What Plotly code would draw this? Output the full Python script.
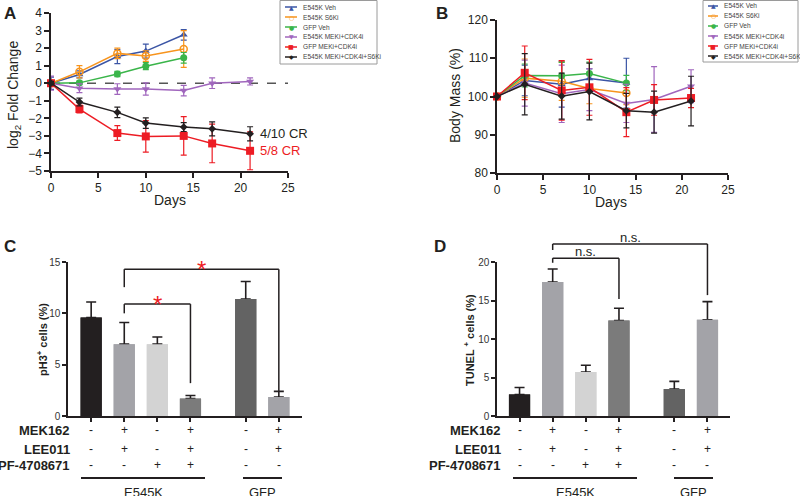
import plotly.graph_objects as go

W, H = 800, 496

# ---- panels A and B: time course ----
group_names = ['E545K Veh', 'E545K S6Ki', 'GFP Veh', 'E545K MEKi+CDK4i',
               'GFP MEKi+CDK4i', 'E545K MEKi+CDK4i+S6Ki']
days_short = [0, 3, 7, 10, 14]
days_long = [0, 3, 7, 10, 14, 17, 21]

# log2 fold change of tumour volume (mean, error)
fold_e545k_veh = [0, 0.5, 1.52, 1.83, 2.76]
fold_e545k_veh_err = [0.35, 0.2, 0.4, 0.4, 0.3]
fold_e545k_s6ki = [0, 0.65, 1.7, 1.55, 1.95]
fold_e545k_s6ki_err = [0.1, 0.35, 0.3, 0.3, 1.05]
fold_gfp_veh = [0, 0.02, 0.53, 0.97, 1.45]
fold_gfp_veh_err = [0.05, 0.1, 0.15, 0.2, 0.3]
fold_e545k_mc = [0, -0.29, -0.33, -0.33, -0.42, 0.0, 0.1]
fold_e545k_mc_err = [0.4, 0.25, 0.3, 0.35, 0.3, 0.3, 0.2]
fold_gfp_mc = [0, -1.47, -2.84, -3.03, -3.0, -3.43, -3.85]
fold_gfp_mc_err = [0.15, 0.22, 0.42, 0.9, 1.1, 1.1, 1.08]
fold_e545k_mcs = [0, -1.07, -1.66, -2.27, -2.5, -2.6, -2.88]
fold_e545k_mcs_err = [0.1, 0.22, 0.3, 0.3, 0.25, 0.4, 0.4]

# body mass (%)
mass_e545k_veh = [100, 104.2, 103.2, 104.7, 103.5]
mass_e545k_veh_err = [0, 4, 6, 2.5, 6.5]
mass_e545k_s6ki = [100, 104.8, 104, 102.1, 100.9]
mass_e545k_s6ki_err = [0, 5, 5, 4, 3]
mass_gfp_veh = [100, 105.5, 105.4, 106, 103.5]
mass_gfp_veh_err = [0, 3, 3.5, 3, 2]
mass_e545k_mc = [100, 103.5, 100.7, 101.8, 98.2, 99.2, 102.7]
mass_e545k_mc_err = [0, 6, 7.5, 5.5, 5, 8.6, 4.3]
mass_gfp_mc = [100, 106.2, 101.6, 102.4, 95.9, 99.1, 99.6]
mass_gfp_mc_err = [0, 7, 7.8, 7.3, 6.4, 4, 2.5]
mass_e545k_mcs = [100, 103.2, 100.1, 101.3, 96.3, 95.9, 98.8]
mass_e545k_mcs_err = [0, 8, 6, 7.4, 4.5, 5.5, 6.5]

cr_labels = ['4/10 CR', '5/8 CR']

# ---- panels C and D: bar charts ----
bar_groups = ['E545K', 'GFP']
mek162 = ['-', '+', '-', '+', '-', '+']
lee011 = ['-', '+', '-', '+', '-', '+']
pf4708671 = ['-', '-', '+', '+', '-', '-']
ph3_mean = [9.6, 7.0, 7.0, 1.7, 11.4, 1.85]
ph3_err = [1.5, 2.1, 0.7, 0.3, 1.7, 0.55]
tunel_mean = [2.8, 17.4, 5.7, 12.4, 3.5, 12.5]
tunel_err = [0.9, 1.7, 0.9, 1.6, 1.0, 2.35]

# styling
colors = ['#3b55a5', '#f7941d', '#3ab54a', '#a066bd', '#ed1c24', '#231f20']
symbols = ['triangle-up', 'circle-open', 'circle', 'triangle-down', 'square', 'diamond']
glyphs = ['\u25B2', '\u25CB', '\u25CF', '\u25BC', '\u25A0', '\u25C6']
bar_colors = ['#231f20', '#a3a3a8', '#d3d3d3', '#7b7b7b', '#636363', '#a3a3a8']
BAR_POS = [0, 1, 2, 3, 4.67, 5.67]   # gap between E545K and GFP groups
FONT = 'Liberation Sans'


def px(x):
    return x / W


def py(y):
    return 1 - y / H


def note(text, x, y, size, xanchor='center', yanchor='middle', **kw):
    # annotation placed in pixel coords of the page
    d = dict(text=text, x=px(x), y=py(y), xref='paper', yref='paper', showarrow=False,
             xanchor=xanchor, yanchor=yanchor, font=dict(size=size, family=FONT, color='#231f20'))
    d.update(kw)
    return d


fig = go.Figure()

fold_sets = [(days_short, fold_e545k_veh, fold_e545k_veh_err),
             (days_short, fold_e545k_s6ki, fold_e545k_s6ki_err),
             (days_short, fold_gfp_veh, fold_gfp_veh_err),
             (days_long, fold_e545k_mc, fold_e545k_mc_err),
             (days_long, fold_gfp_mc, fold_gfp_mc_err),
             (days_long, fold_e545k_mcs, fold_e545k_mcs_err)]
mass_sets = [(days_short, mass_e545k_veh, mass_e545k_veh_err),
             (days_short, mass_e545k_s6ki, mass_e545k_s6ki_err),
             (days_short, mass_gfp_veh, mass_gfp_veh_err),
             (days_long, mass_e545k_mc, mass_e545k_mc_err),
             (days_long, mass_gfp_mc, mass_gfp_mc_err),
             (days_long, mass_e545k_mcs, mass_e545k_mcs_err)]

msize = [7, 7, 7, 7, 8, 6]
for axes, sets in [(('x', 'y'), fold_sets), (('x2', 'y2'), mass_sets)]:
    for i, (d, v, e) in enumerate(sets):
        fig.add_trace(go.Scatter(
            x=d, y=v, xaxis=axes[0], yaxis=axes[1], mode='lines+markers',
            name=group_names[i], showlegend=False,
            line=dict(color=colors[i], width=1.5),
            marker=dict(symbol=symbols[i], size=msize[i], color=colors[i],
                        line=dict(width=1.5 if i == 1 else 0, color=colors[i])),
            error_y=dict(type='data', array=e, color=colors[i], thickness=1.2, width=3),
            cliponaxis=False))

# bars: first trace carries the error bars, the overlay hides the lower cap
for axes, mean, err in [(('x3', 'y3'), ph3_mean, ph3_err), (('x4', 'y4'), tunel_mean, tunel_err)]:
    fig.add_trace(go.Bar(x=BAR_POS, y=mean, xaxis=axes[0], yaxis=axes[1], width=0.64,
                         marker=dict(color=bar_colors, line=dict(width=0)), showlegend=False,
                         error_y=dict(type='data', array=err, arrayminus=[0] * len(err),
                                      symmetric=False, color='#231f20', thickness=1.6, width=5)))
    fig.add_trace(go.Bar(x=BAR_POS, y=mean, xaxis=axes[0], yaxis=axes[1], width=0.64,
                         marker=dict(color=bar_colors, line=dict(width=0)), showlegend=False))

axis_common = dict(showgrid=False, zeroline=False, showline=True, linecolor='#231f20',
                   linewidth=1.5, ticks='outside', ticklen=5, tickwidth=1.5, automargin=False,
                   tickcolor='#231f20', tickfont=dict(family=FONT, size=12, color='#231f20'))
bar_x = dict(axis_common, ticklen=4, showticklabels=False, tickvals=BAR_POS)
bar_y = dict(axis_common, ticklen=4, dtick=5, tickfont=dict(family=FONT, size=10, color='#333'))

fig.update_layout(
    template='none',
    width=W, height=H, margin=dict(l=0, r=0, t=0, b=0, autoexpand=False),
    paper_bgcolor='white', plot_bgcolor='white', barmode='overlay', showlegend=False,
    font=dict(family=FONT, color='#231f20'),
    xaxis=dict(domain=[px(51), px(288)], range=[0, 25], dtick=5, anchor='y', **axis_common),
    yaxis=dict(domain=[py(171), py(13)], range=[-5, 4], dtick=1, anchor='x', **axis_common),
    xaxis2=dict(domain=[px(497), px(728)], range=[0, 25], dtick=5, anchor='y2', **axis_common),
    yaxis2=dict(domain=[py(173), py(20)], range=[80, 120], dtick=10, anchor='x2', **axis_common),
    xaxis3=dict(domain=[px(68), px(302)], range=[-0.7, 6.37], anchor='y3', **bar_x),
    yaxis3=dict(domain=[py(416), py(262)], range=[0, 15], anchor='x3', **bar_y),
    xaxis4=dict(domain=[px(497), px(730)], range=[-0.68, 6.35], anchor='y4', **bar_x),
    yaxis4=dict(domain=[py(416), py(262)], range=[0, 20], anchor='x4', **bar_y),
)

ann = []
shapes = []

# panel letters
for letter, x, y in [('A', 10, 14), ('B', 442, 14), ('C', 10, 246), ('D', 440, 246)]:
    ann.append(note('<b>%s</b>' % letter, x, y, 17))

# axis titles
ann.append(note('log<sub>2</sub> Fold Change', 14, 95, 14, textangle=-90))
ann.append(note('Days', 170, 200, 14))
ann.append(note('Body Mass (%)', 455, 96, 14, textangle=-90))
ann.append(note('Days', 611, 202, 14))
ann.append(note('<b>pH3<sup>+</sup> cells (%)</b>', 42, 340, 11, textangle=-90))
ann.append(note('<b>TUNEL <sup>+</sup> cells (%)</b>', 469, 340, 11, textangle=-90))

# CR labels in panel A
ann.append(dict(text=cr_labels[0], x=21.8, y=fold_e545k_mcs[-1], xref='x', yref='y', xanchor='left',
                yanchor='middle', showarrow=False, font=dict(size=13, family=FONT, color='#231f20')))
ann.append(dict(text=cr_labels[1], x=21.8, y=fold_gfp_mc[-1], xref='x', yref='y', xanchor='left',
                yanchor='middle', showarrow=False, font=dict(size=13, family=FONT, color='#ed1c24')))

# dashed zero line in panel A
shapes.append(dict(type='line', xref='x', yref='y', x0=0, x1=25, y0=0, y1=0,
                   line=dict(color='#555', width=1.6, dash='dash'), layer='below'))

# hand-made legends (compact spacing)
for (lx0, lx1, ltx, ly, bx0, bx1, by1) in [(285, 297, 301, [7, 17, 27, 37, 47, 57], 280, 377, 64),
                                           (708, 718, 722, [6, 16, 26, 36, 46, 56], 703, 798, 62)]:
    shapes.append(dict(type='rect', xref='paper', yref='paper', x0=px(bx0), x1=px(bx1),
                       y0=py(by1), y1=py(0.5), line=dict(color='#9a9a9a', width=1)))
    for i, name in enumerate(group_names):
        shapes.append(dict(type='line', xref='paper', yref='paper', x0=px(lx0), x1=px(lx1),
                           y0=py(ly[i]), y1=py(ly[i]), line=dict(color=colors[i], width=1.5)))
        g = note(glyphs[i], (lx0 + lx1) / 2, ly[i], 6)
        g['font'] = dict(size=6, color=colors[i], family='DejaVu Sans')
        ann.append(g)
        n = note(name, ltx, ly[i], 6.6, xanchor='left')
        n['font']['color'] = '#444'
        ann.append(n)

# treatment tables under C and D
rows = [('MEK162', mek162, 430), ('LEE011', lee011, 449), ('PF-4708671', pf4708671, 465)]
for xa, label_x, under in [('x3', 72, [(81, 205), (243, 282)]), ('x4', 503, [(513, 637), (674, 713)])]:
    for label, signs, y in rows:
        ann.append(note('<b>%s</b>' % label, label_x, y, 13, xanchor='right'))
        for i, s in enumerate(signs):
            ann.append(dict(text=s, x=BAR_POS[i], y=py(y), xref=xa, yref='paper', xanchor='center',
                            yanchor='middle', showarrow=False,
                            font=dict(size=12, family=FONT, color='#231f20')))
    for (ux0, ux1), gname in zip(under, bar_groups):
        shapes.append(dict(type='line', xref='paper', yref='paper', x0=px(ux0), x1=px(ux1),
                           y0=py(478), y1=py(478), line=dict(color='#231f20', width=2)))
        ann.append(note(gname, (ux0 + ux1) / 2, 483, 13, yanchor='top'))


def bracket(xa, ya, ymax, i0, i1, top, left_bot, right_bot):
    d = ya + ' domain'
    for x0, y0, x1, y1 in [(BAR_POS[i0], left_bot, BAR_POS[i0], top),
                           (BAR_POS[i0], top, BAR_POS[i1], top),
                           (BAR_POS[i1], top, BAR_POS[i1], right_bot)]:
        shapes.append(dict(type='line', xref=xa, yref=d, x0=x0, x1=x1, y0=y0 / ymax, y1=y1 / ymax,
                           line=dict(color='#231f20', width=1.5)))


# significance brackets, panel C
bracket('x3', 'y3', 15, 1, 3, 10.9, 10.0, 3.2)
bracket('x3', 'y3', 15, 1, 5, 14.3, 12.55, 2.35)
for i0, i1, top in [(1, 3, 10.9), (1, 5, 14.3)]:
    ann.append(dict(text='*', x=(BAR_POS[i0] + BAR_POS[i1]) / 2, y=top / 15, xref='x3', yref='y3 domain',
                    xanchor='center', yanchor='middle', showarrow=False,
                    font=dict(size=24, family=FONT, color='#ed1c24')))

# significance brackets, panel D
bracket('x4', 'y4', 20, 1, 3, 20.5, 19.9, 15.2)
bracket('x4', 'y4', 20, 1, 5, 22.34, 21.56, 15.7)
for i0, i1, top in [(1, 3, 20.5), (1, 5, 22.34)]:
    ann.append(dict(text='n.s.', x=(BAR_POS[i0] + BAR_POS[i1]) / 2, y=top / 20, xref='x4', yref='y4 domain',
                    xanchor='center', yanchor='bottom', yshift=-3, showarrow=False,
                    font=dict(size=13, family=FONT, color='#231f20')))

fig.update_layout(annotations=ann, shapes=shapes)

# drop the default body margin so the figure sits at the page corner
fig.write_html("out.html", config={'displayModeBar': False},
               post_script="document.body.style.margin = '0px';")
